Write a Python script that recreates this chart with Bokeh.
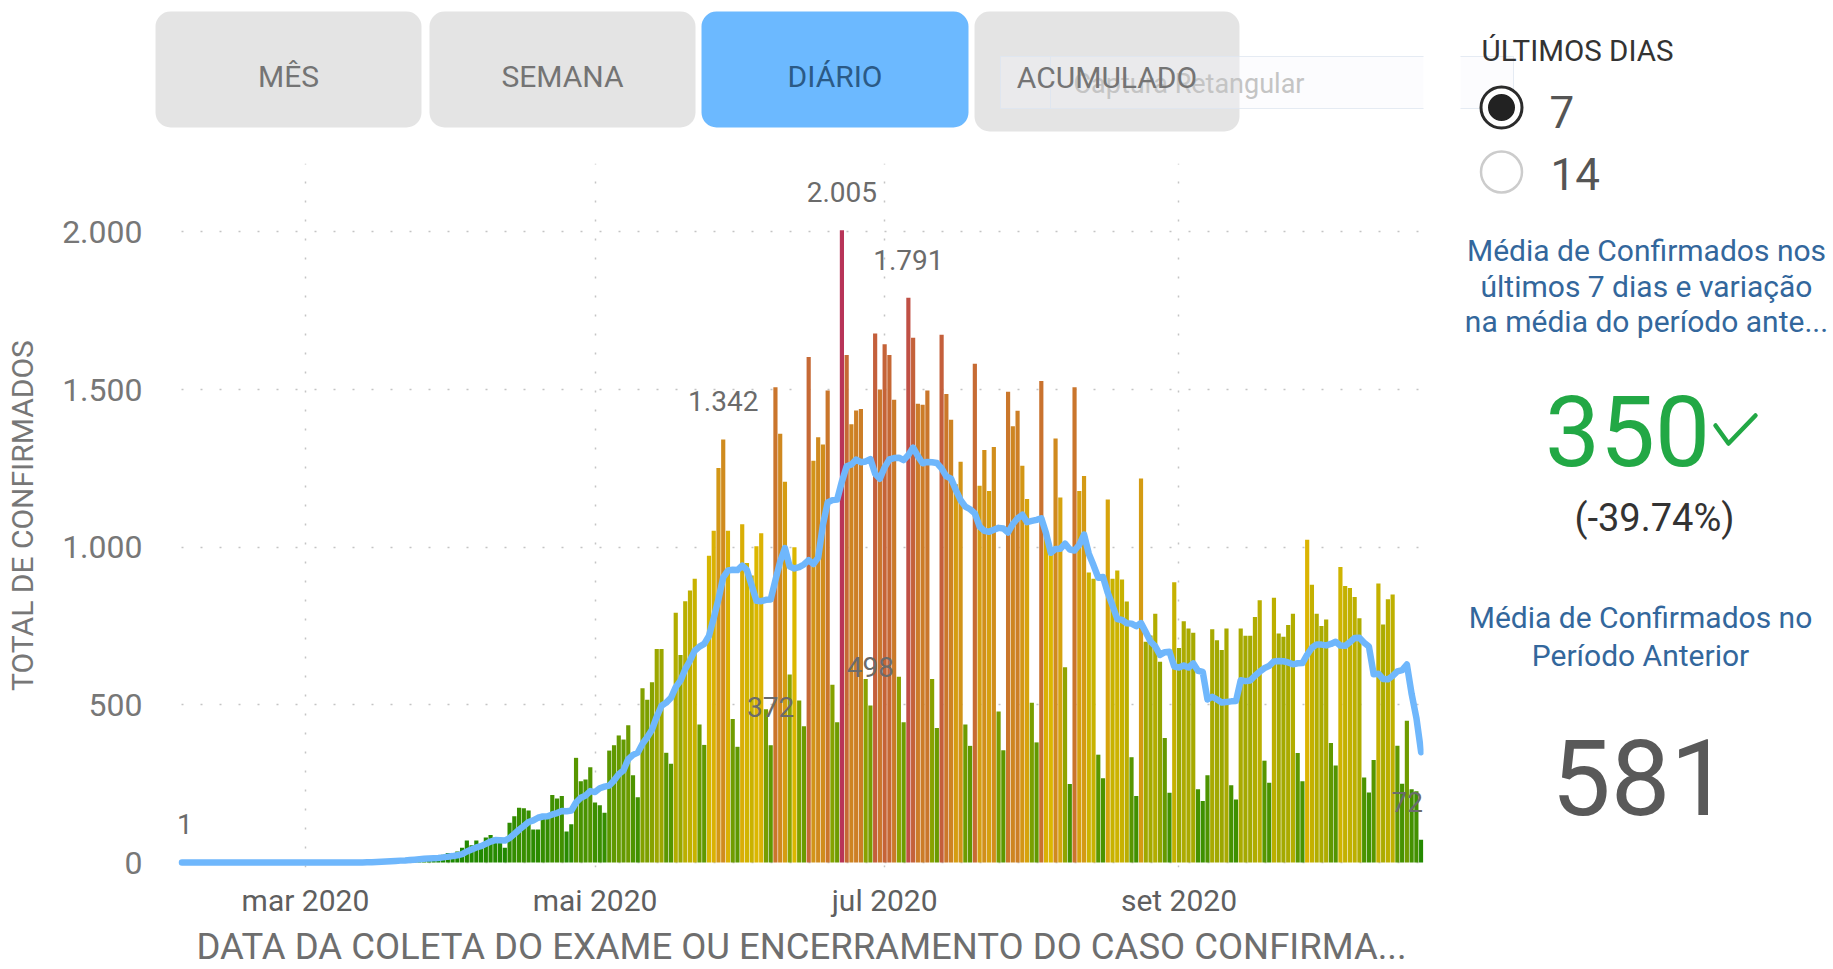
import pandas as pd
from bokeh.plotting import figure
from bokeh.layouts import row, column
from bokeh.models import Range1d, FixedTicker, ColumnDataSource
from bokeh.core.properties import value
from bokeh.embed import file_html
from bokeh.resources import INLINE

FONT = value("Roboto")

# ---------------- data ----------------
data_inicio = "2020-02-04"

conf_fev = [1, 0, 0, 0, 0, 0, 0, 0, 0, 0, 0, 0, 0, 0, 0, 0, 0, 0, 0, 0, 0, 0, 0, 0, 0, 0]
conf_mar = [0, 0, 0, 0, 0, 0, 0, 0, 0, 0, 1, 0, 2, 1, 2, 4, 5, 6, 8, 10,
            7, 6, 12, 14, 15, 18, 20, 12, 10, 25, 30]
conf_abr = [28, 35, 47, 70, 55, 70, 58, 79, 87, 79, 68, 47, 126, 147, 174, 172, 165, 105, 105, 153,
            153, 214, 203, 211, 98, 121, 332, 258, 263, 302]
conf_mai = [190, 182, 158, 355, 372, 403, 390, 435, 277, 207, 553, 516, 572, 677, 677, 348, 313, 792, 658, 829,
            863, 900, 438, 373, 973, 1052, 1251, 1342, 1052, 455, 367]
conf_jun = [1073, 950, 910, 1003, 1044, 486, 372, 1507, 1360, 1208, 596, 1000, 514, 432, 1603, 1274, 1349, 1326, 1497, 564,
            445, 2005, 1610, 1390, 1434, 1438, 582, 498, 1678, 1500]
conf_jul = [1644, 1610, 1468, 589, 445, 1791, 1664, 1455, 1452, 1497, 582, 427, 1674, 1486, 1404, 1200, 1271, 438, 370, 1582,
            1195, 1308, 1178, 1318, 479, 356, 1493, 1384, 1433, 1258, 1153]
conf_ago = [507, 381, 1527, 1050, 1000, 1345, 1158, 619, 249, 1507, 1178, 1226, 920, 900, 342, 267, 1151, 900, 926, 898,
            828, 334, 211, 1218, 700, 720, 789, 637, 395, 221, 889]
conf_set = [680, 765, 742, 729, 232, 195, 277, 740, 705, 674, 742, 245, 200, 742, 719, 719, 779, 832, 323, 253,
            840, 726, 716, 753, 789, 347, 258, 1024, 881, 789]
conf_out = [750, 771, 379, 308, 937, 877, 871, 842, 775, 270, 222, 325, 885, 755, 835, 850, 370, 250, 450, 232,
            226, 72]

media_fev = [0.1, 0.1, 0.1, 0.1, 0.1, 0.1, 0.1, 0, 0, 0, 0, 0, 0, 0, 0, 0, 0, 0, 0, 0, 0, 0, 0, 0, 0, 0]
media_mar = [0, 0, 0, 0, 0, 0, 0, 0, 0, 0, 0.1, 0.1, 0.4, 0.6, 0.9, 1.4, 2.1, 2.9, 4.0, 5.1,
             6.0, 6.6, 7.7, 9.0, 10.3, 11.7, 13.1, 13.9, 14.4, 16.3, 18.6]
media_abr = [20.4, 22.9, 26.7, 35.0, 41.4, 47.9, 51.9, 59.1, 66.6, 71.1, 70.9, 69.7, 77.7, 90.4, 104.0, 116.1, 128.4, 133.7, 142.0, 145.9,
             146.7, 152.4, 156.9, 163.4, 162.4, 164.7, 190.3, 205.3, 212.3, 226.4]
media_mai = [223.4, 235.4, 240.7, 244.0, 260.3, 280.3, 292.9, 327.9, 341.4, 348.4, 376.7, 397.3, 421.4, 462.4, 497.0, 507.1, 522.3, 556.4, 576.7, 613.4,
             640.0, 671.9, 684.7, 693.3, 719.1, 775.4, 835.7, 904.1, 925.9, 928.3, 927.4]
media_jun = [941.7, 927.1, 878.4, 830.0, 828.9, 833.3, 834.0, 896.0, 954.6, 997.1, 939.0, 932.7, 936.7, 945.3, 959.0, 946.7, 966.9, 1071.1, 1142.1, 1149.3,
             1151.1, 1208.6, 1256.6, 1262.4, 1277.9, 1269.4, 1272.0, 1279.6, 1232.9, 1217.1]
media_jul = [1253.4, 1278.6, 1282.9, 1283.9, 1276.3, 1292.4, 1315.9, 1288.9, 1266.3, 1270.4, 1269.4, 1266.9, 1250.1, 1224.7, 1217.4, 1181.4, 1149.1, 1128.6, 1120.4, 1107.3,
             1065.7, 1052.0, 1048.9, 1055.6, 1061.4, 1059.4, 1046.7, 1073.7, 1091.6, 1103.0, 1079.4]
media_ago = [1083.4, 1087.0, 1091.9, 1044.1, 982.3, 994.7, 995.4, 1011.4, 992.6, 989.7, 1008.0, 1040.3, 979.6, 942.7, 903.1, 905.7, 854.9, 815.1, 772.3, 769.1,
             758.9, 757.7, 749.7, 759.3, 730.7, 701.3, 685.7, 658.4, 667.1, 668.6, 621.6]
media_set = [618.7, 625.1, 618.4, 631.6, 608.3, 604.6, 517.1, 525.7, 517.1, 507.4, 509.3, 511.1, 511.9, 578.3, 575.3, 577.3, 592.3, 605.1, 616.3, 623.9,
             637.9, 638.9, 638.4, 634.7, 628.6, 632.0, 632.7, 659.0, 681.1, 691.6]
media_out = [691.1, 688.6, 693.1, 700.3, 687.9, 687.3, 699.0, 712.1, 712.7, 697.1, 684.9, 597.4, 598.6, 582.0, 581.0, 591.7, 606.0, 610.0, 627.9, 534.6,
             459.0, 350.0]

tick_datas = ["2020-03-01", "2020-05-01", "2020-07-01", "2020-09-01"]
tick_rotulos = ["mar 2020", "mai 2020", "jul 2020", "set 2020"]
y_ticks = [0, 500, 1000, 1500, 2000]
y_rotulos = ["0", "500", "1.000", "1.500", "2.000"]
rotulo_datas = ["2020-02-04", "2020-05-28", "2020-06-07", "2020-06-22", "2020-06-28", "2020-07-06", "2020-10-22"]

botoes = ["MÊS", "SEMANA", "DIÁRIO", "ACUMULADO"]
botao_ativo = "DIÁRIO"
dias_opcoes = ["7", "14"]
titulo_media = ["Média de Confirmados nos", "últimos 7 dias e variação", "na média do período ante..."]
titulo_anterior = ["Média de Confirmados no", "Período Anterior"]
media_7dias = "350"
variacao = "(-39.74%)"
media_anterior = "581"

# ---------------- assemble ----------------
confirmados = conf_fev + conf_mar + conf_abr + conf_mai + conf_jun + conf_jul + conf_ago + conf_set + conf_out
media = media_fev + media_mar + media_abr + media_mai + media_jun + media_jul + media_ago + media_set + media_out
if len(confirmados) != len(media):
    raise ValueError("length mismatch %d %d" % (len(confirmados), len(media)))
datas = pd.date_range(data_inicio, periods=len(confirmados), freq="D")

DAY = 86400000.0
def ms(d):
    return pd.Timestamp(d).value / 1e6

GREEN = (22, 134, 0)
YELLOW = (220, 183, 0)
RED = (184, 52, 88)
vmax = max(confirmados)
vmid = vmax / 2.0
def mix(a, b, t):
    return tuple(int(round(a[i] + (b[i] - a[i]) * t)) for i in range(3))
def bar_color(v):
    if v <= vmid:
        c = mix(GREEN, YELLOW, v / vmid)
    else:
        c = mix(YELLOW, RED, (v - vmid) / (vmax - vmid))
    return "#%02x%02x%02x" % c

src = ColumnDataSource(dict(x=datas, conf=confirmados, media=media,
                            color=[bar_color(v) for v in confirmados]))

def fmt(v):
    return "{:,}".format(v).replace(",", ".")
lookup = dict(zip([d.strftime("%Y-%m-%d") for d in datas], confirmados))
lab_vals = [lookup[d] for d in rotulo_datas]
lab_src = ColumnDataSource(dict(x=pd.to_datetime(rotulo_datas), y=lab_vals,
                                t=[fmt(v) for v in lab_vals],
                                dx=[3, 0, 0, 0, 0, 0, -14]))

# ---------------- layout geometry (page pixels) ----------------
LEFT_W = 1460
PANEL_W = 372
FR_L, FR_R = 153, 1423          # plot frame left / right edges
BTN_H, CHART_H, TITLE_H = 158, 762, 48
TOTAL_H = BTN_H + CHART_H + TITLE_H

def blank(width, height, xr, yr, bl=0, br=0):
    f = figure(width=width, height=height, x_range=Range1d(*xr), y_range=Range1d(*yr),
               x_axis_type=None, y_axis_type=None, output_backend="svg", toolbar_location=None,
               min_border=0, min_border_left=bl, min_border_right=br)
    f.outline_line_color = None
    f.background_fill_color = "white"
    f.border_fill_color = "white"
    return f

# ---------------- chart ----------------
p = figure(width=LEFT_W, height=CHART_H, x_axis_type="datetime",
           x_range=Range1d(ms("2020-02-04") - 6.0 * DAY, ms("2020-10-22") + 0.5 * DAY),
           y_range=Range1d(-15.8, 2217.0),
           output_backend="svg", toolbar_location=None,
           min_border_left=FR_L, min_border_right=LEFT_W - FR_R, min_border_top=5, min_border_bottom=50)
p.outline_line_color = None
p.background_fill_color = "white"
p.border_fill_color = "white"

p.vbar(x="x", top="conf", width=0.88 * DAY, fill_color="color", line_color=None, source=src)
p.line(x="x", y="media", line_color="#6fb7fc", line_width=6.5, line_join="round", line_cap="round", source=src)
p.text(x="x", y="y", text="t", x_offset="dx", y_offset=-38, source=lab_src,
       text_align="center", text_baseline="middle",
       text_font=FONT, text_font_size="28px", text_color="#6b6b6b")

xt = [ms(d) for d in tick_datas]
p.xaxis.ticker = FixedTicker(ticks=xt)
p.xaxis.major_label_overrides = {t: l for t, l in zip(xt, tick_rotulos)}
p.yaxis.ticker = FixedTicker(ticks=y_ticks)
p.yaxis.major_label_overrides = {t: l for t, l in zip(y_ticks, y_rotulos)}
p.xgrid.ticker = FixedTicker(ticks=xt)
p.ygrid.ticker = FixedTicker(ticks=y_ticks)

for ax in (p.xaxis[0], p.yaxis[0]):
    ax.axis_line_color = None
    ax.major_tick_line_color = None
    ax.minor_tick_line_color = None
    ax.major_label_text_font = "Roboto"
p.xaxis.major_label_text_font_size = "30px"
p.xaxis.major_label_text_color = "#5f5f5f"
p.xaxis.major_label_standoff = 9
p.yaxis.major_label_text_font_size = "32px"
p.yaxis.major_label_text_color = "#777777"
p.yaxis.major_label_standoff = 5
p.yaxis.axis_label = "TOTAL DE CONFIRMADOS"
p.yaxis.axis_label_text_font = "Roboto"
p.yaxis.axis_label_text_font_size = "30px"
p.yaxis.axis_label_text_font_style = "normal"
p.yaxis.axis_label_text_color = "#777777"
p.yaxis.axis_label_standoff = 19

for g in (p.xgrid[0], p.ygrid[0]):
    g.grid_line_color = "#c4c4c4"
    g.grid_line_dash = "2 17"
    g.grid_line_width = 1.5
try:
    p.ygrid[0].cross_bounds = (ms("2020-02-04"), ms("2020-10-22") + 0.5 * DAY)
except Exception:
    pass

# ---------------- x axis title ----------------
tt = blank(LEFT_W, TITLE_H, (FR_L, FR_R), (TOTAL_H, TOTAL_H - TITLE_H), FR_L, LEFT_W - FR_R)
tt.text(x=[801], y=[946], text=["DATA DA COLETA DO EXAME OU ENCERRAMENTO DO CASO CONFIRMA..."],
        text_align="center", text_baseline="middle", text_font=FONT,
        text_font_size="36.5px", text_color="#6e6e6e")

# ---------------- buttons ----------------
b = blank(LEFT_W, BTN_H, (FR_L, FR_R), (BTN_H, 0), FR_L, LEFT_W - FR_R)
b_left = [155, 429, 701, 974]
b_right = [421, 695, 968, 1239]
b_bottom = [127, 127, 127, 131]
b_fill = ["#6cb9ff" if t == botao_ativo else "#e4e4e4" for t in botoes]
b_txt = ["#2b5a86" if t == botao_ativo else "#747474" for t in botoes]
b.quad(left=b_left, right=b_right, top=[11, 11, 11, 11], bottom=b_bottom,
       fill_color=b_fill, line_color=None, border_radius=15)
# faint "Captura Retangular" overlay from the screenshot tool
b.quad(left=[1000], right=[1520], top=[56], bottom=[108], fill_color="#f5f7fb", fill_alpha=0.35,
       line_color="#dfe6f0", line_alpha=0.8)
b.quad(left=[1000], right=[1050], top=[56], bottom=[108], fill_color=None, line_color="#dfe6f0")
b.text(x=[1073], y=[83], text=["Captura Retangular"], text_align="left", text_baseline="middle",
       text_font=FONT, text_font_size="27px", text_color="#c4c4c4")
b.text(x=[(l + r) / 2 for l, r in zip(b_left, b_right)], y=[76, 76, 76, 77], text=botoes,
       text_align="center", text_baseline="middle", text_font=FONT, text_font_size="30px",
       text_color=b_txt)

# ---------------- right panel ----------------
q = blank(PANEL_W, TOTAL_H, (LEFT_W, LEFT_W + PANEL_W), (TOTAL_H, 0))
q.quad(left=[1440], right=[1513], top=[56], bottom=[108], fill_color="#f5f7fb", fill_alpha=0.35,
       line_color="#dfe6f0", line_alpha=0.8)
q.text(x=[1481], y=[50], text=["ÚLTIMOS DIAS"], text_align="left", text_baseline="middle",
       text_font=FONT, text_font_size="29.5px", text_color="#333333")
q.scatter(x=[1501], y=[107], size=41, marker="circle", fill_color="white", line_color="#2b2b2b", line_width=3)
q.scatter(x=[1501], y=[107], size=27, marker="circle", fill_color="#222222", line_color=None)
q.scatter(x=[1501], y=[171.5], size=41, marker="circle", fill_color=None, line_color="#cccccc", line_width=2.5)
q.text(x=[1549, 1550], y=[111, 173.5], text=dias_opcoes, text_align="left", text_baseline="middle",
       text_font=FONT, text_font_size="44px", text_color="#555555")
q.text(x=[1646, 1646, 1646], y=[250, 286, 321], text=titulo_media, text_align="center",
       text_baseline="middle", text_font=FONT, text_font_size="30px", text_color="#33679c")
q.text(x=[1627], y=[430], text=[media_7dias], text_align="center", text_baseline="middle",
       text_font=FONT, text_font_size="98px", text_color="#22a845")
q.line(x=[1715, 1728, 1755], y=[425, 443, 415], line_color="#22a845", line_width=4.5,
       line_join="round", line_cap="round")
q.text(x=[1654], y=[517], text=[variacao], text_align="center", text_baseline="middle",
       text_font=FONT, text_font_size="38px", text_color="#333333")
q.text(x=[1640, 1640], y=[617, 655], text=titulo_anterior, text_align="center",
       text_baseline="middle", text_font=FONT, text_font_size="30px", text_color="#33679c")
q.text(x=[1640], y=[776], text=[media_anterior], text_align="center", text_baseline="middle",
       text_font=FONT, text_font_size="106px", text_color="#595959")

layout = row(column(b, p, tt), q)
open("out.html", "w").write(file_html(layout, INLINE))
